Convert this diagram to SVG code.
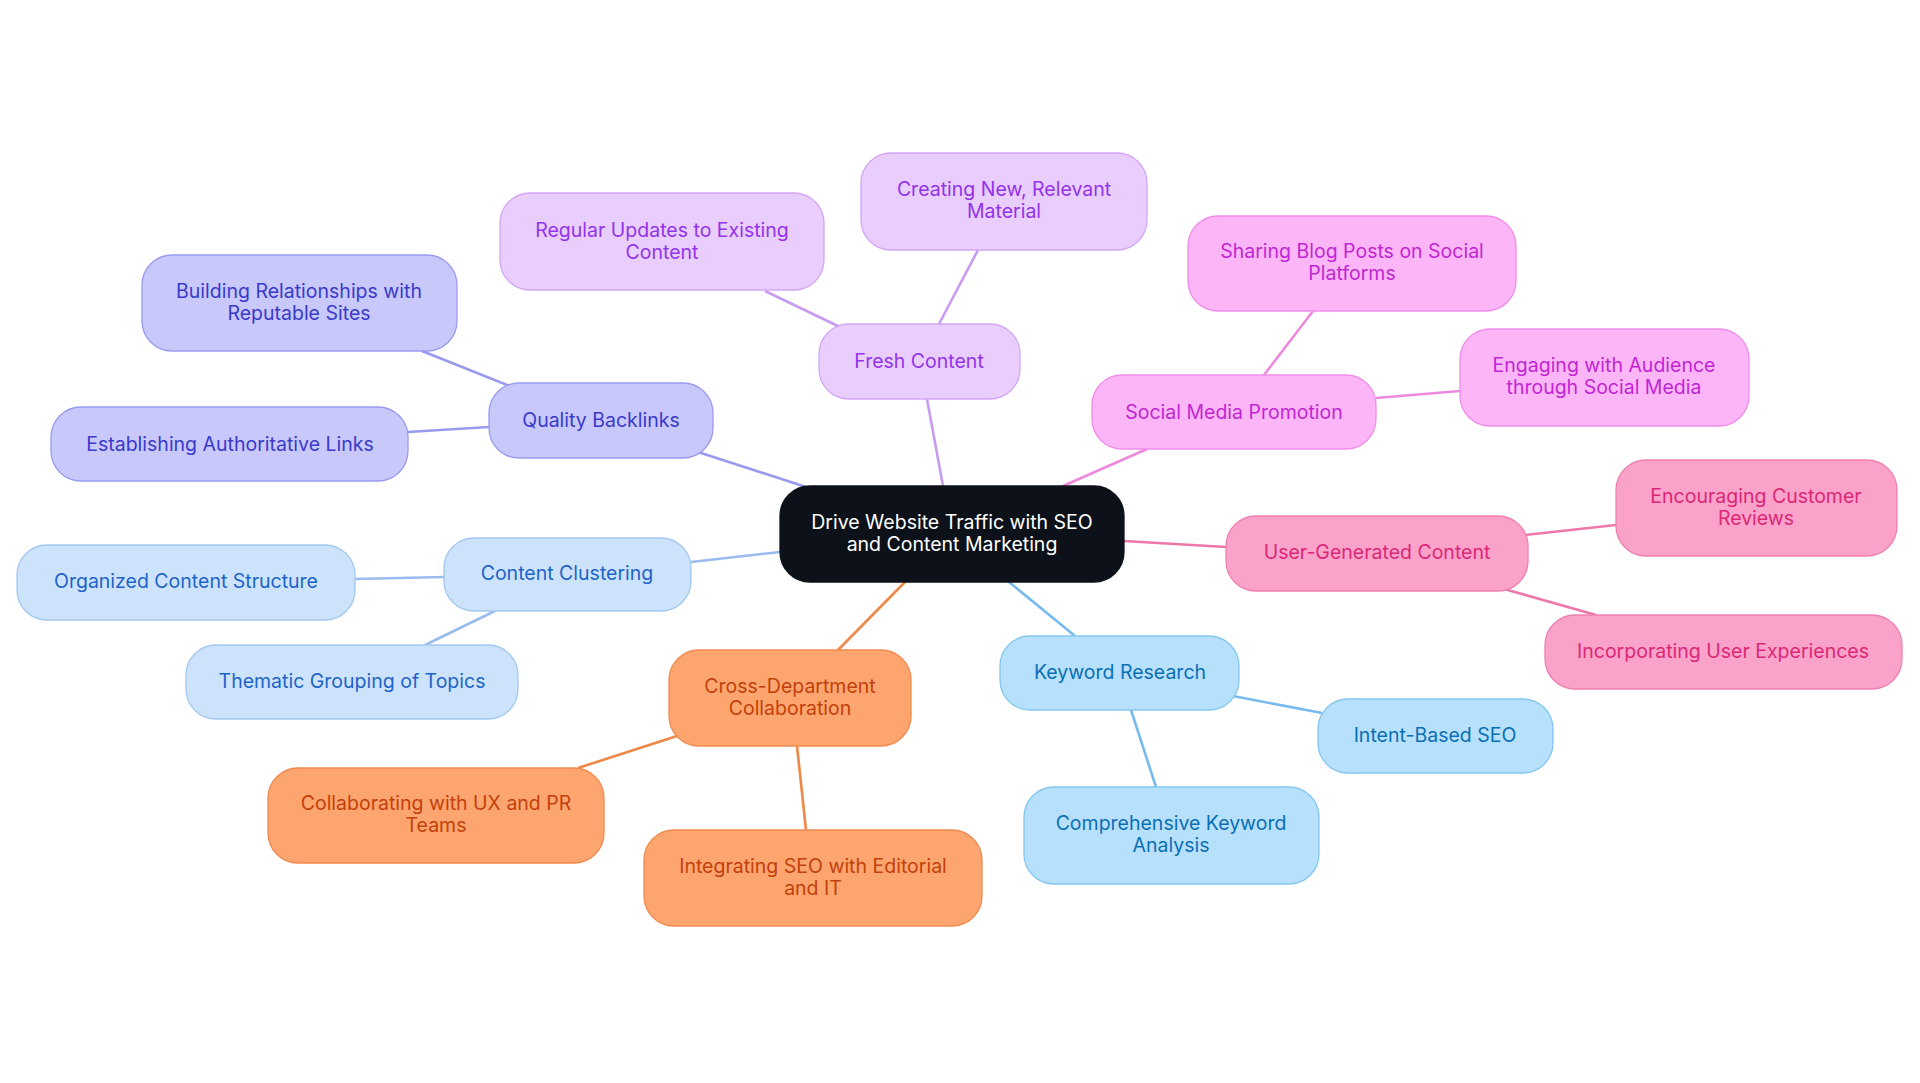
<svg xmlns="http://www.w3.org/2000/svg" width="1920" height="1083" viewBox="0 0 1920 1083">
<style>
text{font-family:Inter,"Open Sans","Liberation Sans",sans-serif;font-size:19.5px;text-anchor:middle;dominant-baseline:central}
rect{stroke-width:1.3}
#edges line{stroke-width:2.6}
.bl rect{fill:#c8c8fa;stroke:#9a9af0}.bl text{fill:#3a3acb}
.fr rect{fill:#e9cdfc;stroke:#d4a6f5}.fr text{fill:#9333ea}
.sm rect{fill:#fcb6f8;stroke:#f08de8}.sm text{fill:#c026d3}
.ug rect{fill:#fba2ca;stroke:#ee80b0}.ug text{fill:#db2777}
.kw rect{fill:#b6e0fc;stroke:#84c6f0}.kw text{fill:#0b6fb4}
.cd rect{fill:#fda56e;stroke:#f08a50}.cd text{fill:#c2410c}
.cc rect{fill:#cde3fc;stroke:#a2c8f0}.cc text{fill:#1d64c8}
</style>
<rect width="1920" height="1083" fill="#fff"/>
<g id="edges">
<g stroke="#9999ee"><line x1="698" y1="452" x2="806" y2="487"/><line x1="512" y1="387" x2="422" y2="351"/><line x1="489" y1="427" x2="408" y2="432"/></g>
<g stroke="#c89bf0"><line x1="943" y1="486" x2="927" y2="399"/><line x1="842" y1="328" x2="765" y2="291"/><line x1="939" y1="324" x2="978" y2="250"/></g>
<g stroke="#ee88dd"><line x1="1063" y1="486" x2="1147" y2="449"/><line x1="1264" y1="375" x2="1313" y2="311"/><line x1="1376" y1="398" x2="1460" y2="391"/></g>
<g stroke="#ee77aa"><line x1="1124" y1="541" x2="1226" y2="547"/><line x1="1525" y1="535" x2="1616" y2="525"/><line x1="1504" y1="589" x2="1596" y2="615"/></g>
<g stroke="#77bbee"><line x1="1009" y1="582" x2="1075" y2="636"/><line x1="1233" y1="696" x2="1322" y2="713"/><line x1="1131" y1="710" x2="1156" y2="787"/></g>
<g stroke="#ee8844"><line x1="905" y1="582" x2="838" y2="650"/><line x1="677" y1="736" x2="578" y2="768"/><line x1="797" y1="746" x2="806" y2="830"/></g>
<g stroke="#99bbee"><line x1="780" y1="552" x2="691" y2="562"/><line x1="444" y1="577" x2="355" y2="579"/><line x1="495" y1="611" x2="425" y2="645"/></g>
</g>
<g id="center"><rect x="780" y="486" width="344" height="96" rx="30" fill="#0d121a" stroke="#0d121a"/><text x="952" y="522" fill="#fff">Drive Website Traffic with SEO</text><text x="952" y="544" fill="#fff">and Content Marketing</text></g>
<g id="backlinks" class="bl"><rect x="489" y="383" width="224" height="75" rx="30"/><text x="601" y="420">Quality Backlinks</text></g>
<g id="building" class="bl"><rect x="142" y="255" width="315" height="96" rx="30"/><text x="299" y="291">Building Relationships with</text><text x="299" y="313">Reputable Sites</text></g>
<g id="establishing" class="bl"><rect x="51" y="407" width="357" height="74" rx="30"/><text x="230" y="444">Establishing Authoritative Links</text></g>
<g id="fresh" class="fr"><rect x="819" y="324" width="201" height="75" rx="30"/><text x="919" y="361">Fresh Content</text></g>
<g id="regular" class="fr"><rect x="500" y="193" width="324" height="97" rx="30"/><text x="662" y="230">Regular Updates to Existing</text><text x="662" y="252">Content</text></g>
<g id="creating" class="fr"><rect x="861" y="153" width="286" height="97" rx="30"/><text x="1004" y="189">Creating New, Relevant</text><text x="1004" y="211">Material</text></g>
<g id="social" class="sm"><rect x="1092" y="375" width="284" height="74" rx="30"/><text x="1234" y="412">Social Media Promotion</text></g>
<g id="sharing" class="sm"><rect x="1188" y="216" width="328" height="95" rx="30"/><text x="1352" y="251">Sharing Blog Posts on Social</text><text x="1352" y="273">Platforms</text></g>
<g id="engaging" class="sm"><rect x="1460" y="329" width="289" height="97" rx="30"/><text x="1604" y="365">Engaging with Audience</text><text x="1604" y="387">through Social Media</text></g>
<g id="ugc" class="ug"><rect x="1226" y="516" width="302" height="75" rx="30"/><text x="1377" y="552">User-Generated Content</text></g>
<g id="encouraging" class="ug"><rect x="1616" y="460" width="281" height="96" rx="30"/><text x="1756" y="496">Encouraging Customer</text><text x="1756" y="518">Reviews</text></g>
<g id="incorporating" class="ug"><rect x="1545" y="615" width="357" height="74" rx="30"/><text x="1723" y="651">Incorporating User Experiences</text></g>
<g id="keyword" class="kw"><rect x="1000" y="636" width="239" height="74" rx="30"/><text x="1120" y="672">Keyword Research</text></g>
<g id="intent" class="kw"><rect x="1318" y="699" width="235" height="74" rx="30"/><text x="1435" y="735">Intent-Based SEO</text></g>
<g id="comprehensive" class="kw"><rect x="1024" y="787" width="295" height="97" rx="30"/><text x="1171" y="823">Comprehensive Keyword</text><text x="1171" y="845">Analysis</text></g>
<g id="cross" class="cd"><rect x="669" y="650" width="242" height="96" rx="30"/><text x="790" y="686">Cross-Department</text><text x="790" y="708">Collaboration</text></g>
<g id="collab" class="cd"><rect x="268" y="768" width="336" height="95" rx="30"/><text x="436" y="803">Collaborating with UX and PR</text><text x="436" y="825">Teams</text></g>
<g id="integrating" class="cd"><rect x="644" y="830" width="338" height="96" rx="30"/><text x="813" y="866">Integrating SEO with Editorial</text><text x="813" y="888">and IT</text></g>
<g id="clustering" class="cc"><rect x="444" y="538" width="247" height="73" rx="30"/><text x="567" y="573">Content Clustering</text></g>
<g id="organized" class="cc"><rect x="17" y="545" width="338" height="75" rx="30"/><text x="186" y="581">Organized Content Structure</text></g>
<g id="thematic" class="cc"><rect x="186" y="645" width="332" height="74" rx="30"/><text x="352" y="681">Thematic Grouping of Topics</text></g>
</svg>
